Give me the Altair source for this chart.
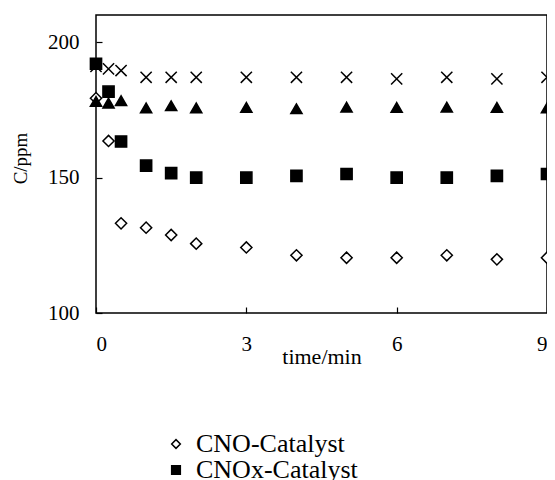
import altair as alt
import pandas as pd

# ---- data ----
times = [0, 0.25, 0.5, 1, 1.5, 2, 3, 4, 5, 6, 7, 8, 9]
cno_catalyst = [179.3, 163.5, 133.1, 131.5, 128.8, 125.6, 124.2, 121.3, 120.4, 120.4, 121.3, 119.8, 120.4]
cnox_catalyst = [192.0, 181.7, 163.3, 154.4, 151.6, 150.0, 150.0, 150.6, 151.3, 150.0, 150.0, 150.6, 151.3]
triangle_series = [178.1, 177.5, 178.4, 175.7, 176.5, 175.7, 175.9, 175.4, 176.0, 175.9, 176.0, 175.9, 175.7]
cross_series = [191.0, 190.1, 189.5, 187.0, 187.0, 187.0, 187.0, 187.0, 187.0, 186.4, 187.0, 186.4, 187.0]

series_names = ["CNO-Catalyst", "CNOx-Catalyst", "CN-Catalyst", "Blank"]
series_shapes = ["diamond", "square", "triangle-up", "M-1,-1L1,1M-1,1L1,-1"]
series_fills = ["white", "black", "black", "transparent"]
series_strokes = ["black", "black", "black", "black"]

x_ticks = [0, 3, 6, 9]
y_ticks = [100, 150, 200]

# drawing order: diamonds, crosses, triangles, squares (squares on top)
rows = []
for name, vals in [("CNO-Catalyst", cno_catalyst), ("Blank", cross_series),
                   ("CN-Catalyst", triangle_series), ("CNOx-Catalyst", cnox_catalyst)]:
    for t, v in zip(times, vals):
        rows.append({"time": t, "C": v, "series": name})
df = pd.DataFrame(rows)

W, H = 451, 298
FONT = "Liberation Serif"
TICK = 6

xscale = alt.Scale(domain=[0, 9], nice=False, zero=False)
yscale = alt.Scale(domain=[100, 210], nice=False, zero=False)

# axes are offset inward by the tick length so the ticks point into the plot
x_axis = alt.Axis(values=x_ticks, title="time/min", offset=-TICK, tickSize=TICK,
                  tickColor="black", tickWidth=1.2, labelPadding=20,
                  titleY=50 + TICK, titleBaseline="alphabetic", titleFontSize=22,
                  titleFont=FONT, titleFontWeight="normal", titleColor="black")
y_axis = alt.Axis(values=y_ticks, title="C/ppm", offset=-TICK, tickSize=TICK,
                  tickColor="black", tickWidth=1.2, labelPadding=17,
                  titleX=-70 - TICK, titleY=143, titleBaseline="alphabetic",
                  titleFontSize=19, titleFont=FONT, titleFontWeight="normal",
                  titleColor="black")

legend = alt.Legend(
    title=None, orient="none", legendX=67, legendY=416, direction="vertical",
    labelLimit=400, symbolStrokeColor="black", symbolStrokeWidth=1.5,
)

chart = alt.Chart(df).mark_point(
    strokeWidth=1.5, opacity=1, fillOpacity=1, size=125, clip=False
).encode(
    x=alt.X("time:Q", scale=xscale, axis=x_axis),
    y=alt.Y("C:Q", scale=yscale, axis=y_axis),
    shape=alt.Shape("series:N", scale=alt.Scale(domain=series_names, range=series_shapes),
                    legend=legend),
    fill=alt.Fill("series:N", scale=alt.Scale(domain=series_names, range=series_fills),
                  legend=legend),
    stroke=alt.Stroke("series:N", scale=alt.Scale(domain=series_names, range=series_strokes),
                      legend=legend),
).properties(
    width=W, height=H,
    autosize=alt.AutoSizeParams(type="none"),
    padding={"left": 88, "top": 7, "right": 0, "bottom": 170},
).configure_view(
    stroke="black", strokeWidth=1.5
).configure_axis(
    grid=False, domain=False,
    labelFont=FONT, labelFontSize=21, labelColor="black",
    titleFont=FONT, titleColor="black", titleFontWeight="normal",
).configure_legend(
    labelFont=FONT, labelFontSize=26, labelColor="black",
    symbolSize=75, rowPadding=0, labelOffset=7, padding=0,
)

chart.save("out.html", embed_options={"renderer": "svg", "actions": False})
